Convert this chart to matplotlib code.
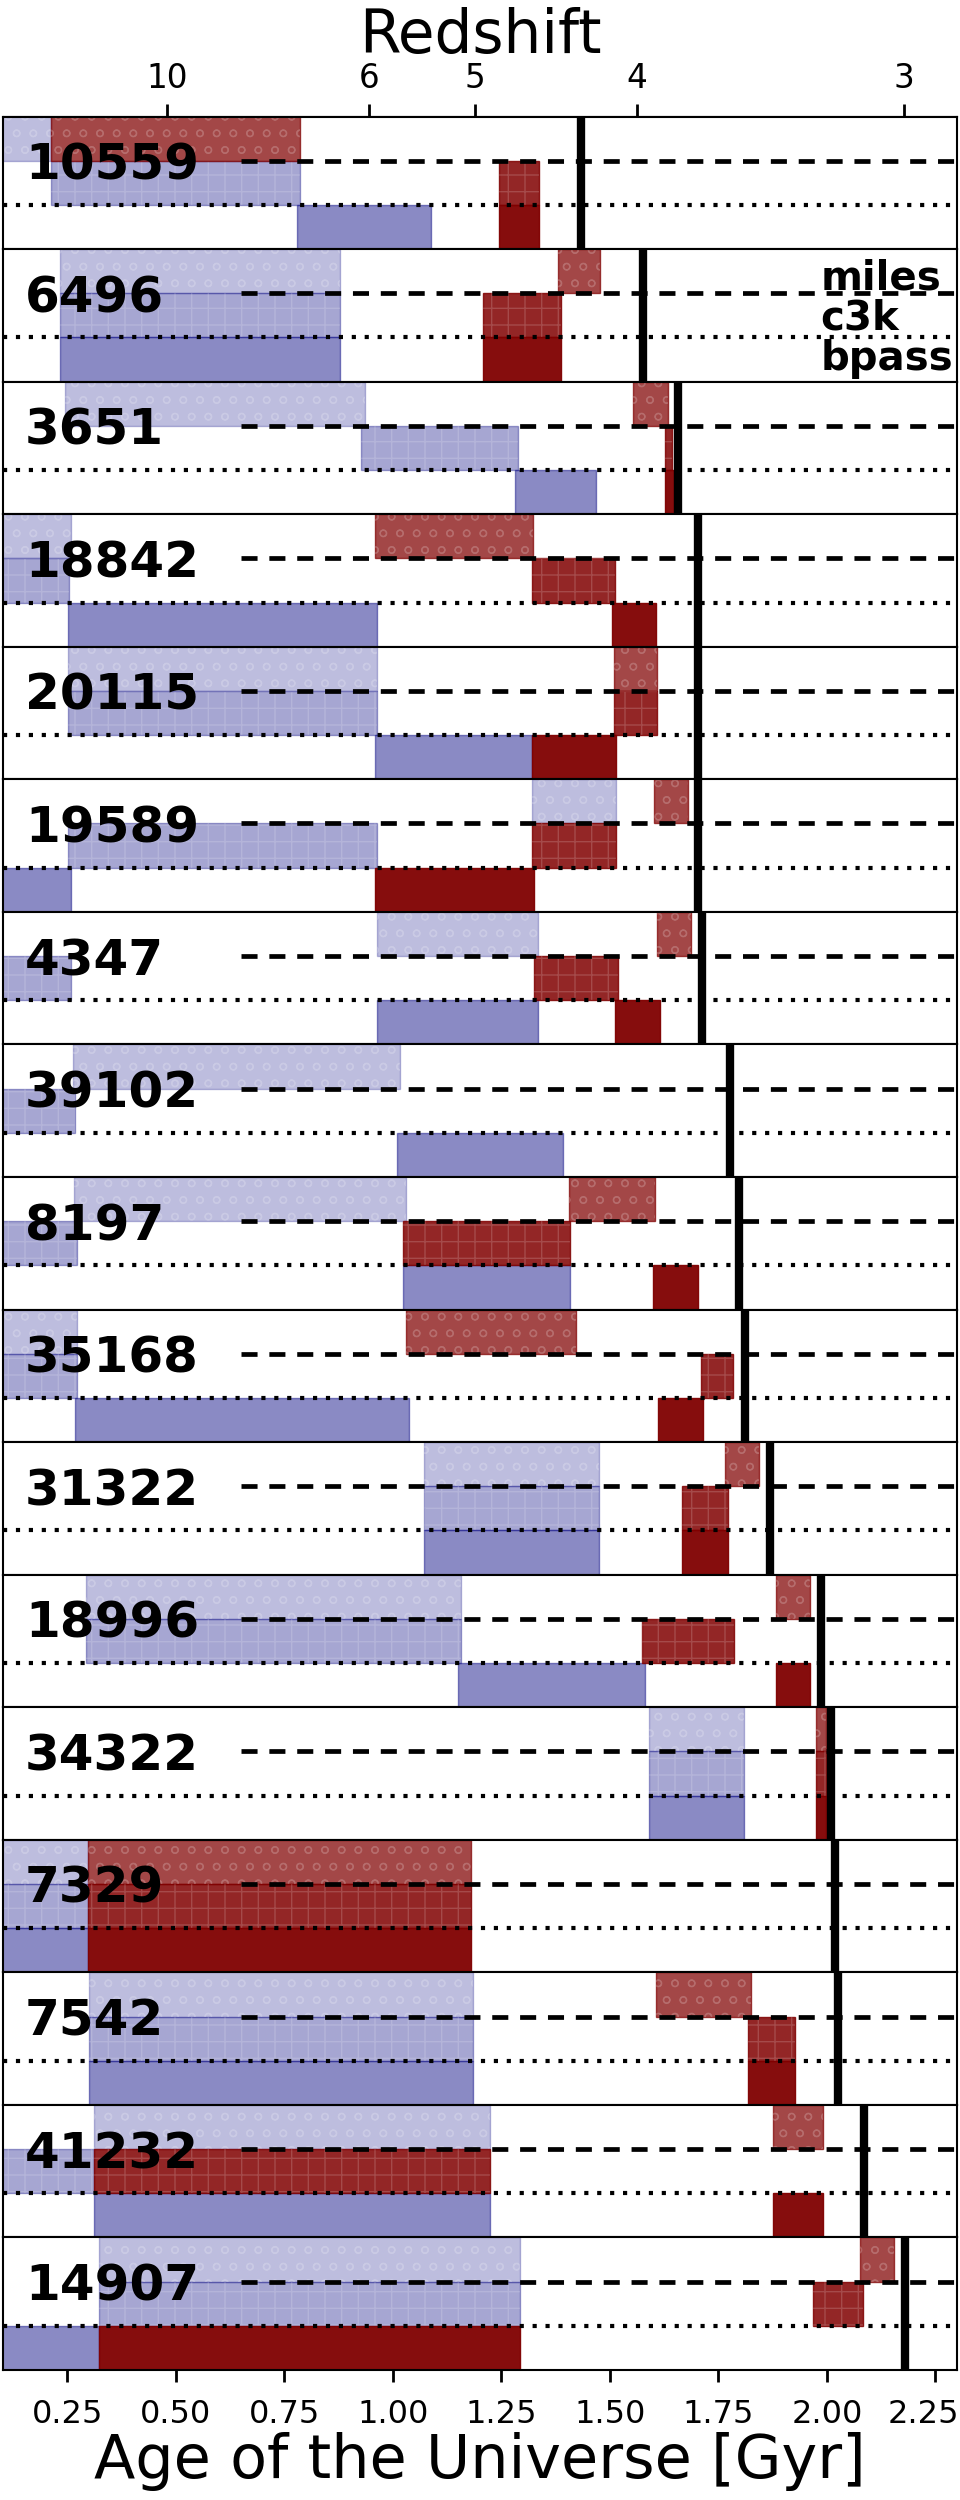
"""Star-formation windows per galaxy for three SPS libraries, vs. age of the Universe."""
import numpy as np
import matplotlib.pyplot as plt
import matplotlib.transforms as mtransforms

galaxy_ids = [10559, 6496, 3651, 18842, 20115, 19589, 4347, 39102, 8197,
              35168, 31322, 18996, 34322, 7329, 7542, 41232, 14907]

# age of the Universe at the observed redshift [Gyr]
obs_age = [1.433, 1.576, 1.658, 1.704, 1.704, 1.704, 1.713, 1.777, 1.798,
           1.812, 1.869, 1.986, 2.010, 2.018, 2.025, 2.086, 2.179]

# (start, end) in Gyr, None = nothing drawn
miles_blue = [(0.0, 0.212), (0.233, 0.879), (0.244, 0.936), (0.0, 0.259),
              (0.251, 0.964), (1.321, 1.514), (0.964, 1.335), (0.264, 1.017),
              (0.266, 1.031), (0.0, 0.273), (1.071, 1.476), (0.294, 1.157),
              (1.591, 1.808), (0.0, 0.297), (0.300, 1.184), (0.311, 1.224),
              (0.323, 1.292)]
miles_red = [(0.212, 0.786), (1.380, 1.477), (1.554, 1.634), (0.960, 1.323),
             (1.509, 1.609), (1.601, 1.680), (1.609, 1.687), None,
             (1.405, 1.604), (1.031, 1.423), (1.765, 1.844), (1.882, 1.961),
             (1.975, 1.998), (0.297, 1.181), (1.606, 1.825), (1.877, 1.991),
             (2.076, 2.154)]
c3k_blue = [(0.212, 0.786), (0.233, 0.879), (0.927, 1.288), (0.0, 0.254),
            (0.251, 0.964), (0.251, 0.964), (0.0, 0.259), (0.0, 0.269),
            (0.0, 0.273), (0.0, 0.273), (1.071, 1.476), (0.294, 1.157),
            (1.591, 1.808), (0.0, 0.297), (0.300, 1.184), (0.0, 0.311),
            (0.323, 1.292)]
c3k_red = [(1.245, 1.338), (1.207, 1.388), (1.626, 1.644), (1.321, 1.512),
           (1.509, 1.609), (1.321, 1.514), (1.326, 1.520), None,
           (1.024, 1.409), (1.711, 1.784), (1.666, 1.772), (1.573, 1.787),
           (1.975, 1.998), (0.297, 1.181), (1.818, 1.926), (0.311, 1.224),
           (1.969, 2.083)]
bpass_blue = [(0.779, 1.088), (0.233, 0.879), (1.281, 1.469), (0.251, 0.964),
              (0.960, 1.321), (0.0, 0.259), (0.964, 1.335), (1.010, 1.392),
              (1.024, 1.409), (0.269, 1.038), (1.071, 1.476), (1.150, 1.580),
              (1.591, 1.808), (0.0, 0.297), (0.300, 1.184), (0.311, 1.224),
              (0.0, 0.323)]
bpass_red = [(1.245, 1.338), (1.207, 1.388), (1.626, 1.648), (1.506, 1.606),
             (1.321, 1.514), (0.960, 1.326), (1.513, 1.616), None,
             (1.599, 1.704), (1.611, 1.715), (1.666, 1.772), (1.882, 1.961),
             (1.975, 1.998), (0.297, 1.181), (1.818, 1.926), (1.877, 1.991),
             (0.323, 1.292)]

library_names = ['miles', 'c3k', 'bpass']
z_ticks = [10, 6, 5, 4, 3]
age_ticks = [0.25, 0.50, 0.75, 1.00, 1.25, 1.50, 1.75, 2.00, 2.25]


def age_of_z(z):
    # flat LCDM age (Gyr)
    return 11.735 * np.arcsinh(1.4931 * (1.0 + np.asarray(z, float)) ** -1.5)


# row: (blue, red, y range, blue alpha, red alpha, hatch)
rows = [
    (miles_blue, miles_red, (2 / 3, 1.0), 0.26, 0.72, 'o'),
    (c3k_blue, c3k_red, (1 / 3, 2 / 3), 0.35, 0.85, '+'),
    (bpass_blue, bpass_red, (0.0, 1 / 3), 0.46, 0.95, None),
]

fig, axes = plt.subplots(len(galaxy_ids), 1, figsize=(9.6, 25), sharex=True)
fig.subplots_adjust(left=0.003, right=0.997, top=0.9534, bottom=0.052, hspace=0)


def span(ax, iv, y0, y1, color, alpha, hatch, z):
    if iv is None:
        return
    ax.axvspan(iv[0], iv[1], y0, y1, color=color, alpha=alpha, zorder=z)
    if hatch:
        ax.axvspan(iv[0], iv[1], y0, y1, facecolor='none',
                   edgecolor=(1, 1, 1, 0.17), hatch=hatch, lw=0, zorder=z + 0.05)


for i, ax in enumerate(axes):
    for blue, red, (y0, y1), ab, ar, hatch in rows:
        span(ax, blue[i], y0, y1, 'navy', ab, hatch, 1.0)
        span(ax, red[i], y0, y1, 'maroon', ar, hatch, 1.2)
    ax.axhline(2 / 3, xmin=0.25, color='k', lw=3.4, ls=(0, (3.4, 2.5)), zorder=2)
    ax.axhline(1 / 3, color='k', lw=3, ls=(0, (1, 2.1)), zorder=2)
    ax.axvline(obs_age[i], color='k', lw=6, zorder=3)
    ax.text(0.023, 2 / 3, str(galaxy_ids[i]), transform=ax.transAxes,
            fontsize=36, fontweight='bold', va='center_baseline', ha='left', zorder=4)
    ax.set_ylim(0, 1)
    ax.set_yticks([])
    ax.tick_params(axis='x', bottom=False, labelbottom=False)
    for sp in ax.spines.values():
        sp.set_linewidth(1.5)

# library names in the second panel
for name, yb in zip(library_names, [0.694, 0.392, 0.09]):
    axes[1].text(0.857, yb, name, transform=axes[1].transAxes, fontsize=29,
                 fontweight='bold', ha='left', va='baseline', zorder=4)

ax_b = axes[-1]
ax_b.set_xlim(0.102, 2.30)
ax_b.set_xticks(age_ticks)
ax_b.set_xticklabels([f'{t:.2f}' for t in age_ticks])
ax_b.tick_params(axis='x', bottom=True, labelbottom=True, labelsize=23,
                 length=8.6, width=2, pad=12)
# keep the last label inside the canvas
last = ax_b.get_xticklabels()[-1]
last.set_transform(last.get_transform()
                   + mtransforms.ScaledTranslation(-0.12, 0, fig.dpi_scale_trans))
ax_b.set_xlabel('Age of the Universe [Gyr]', fontsize=43.5)
ax_b.xaxis.set_label_coords(0.5, -0.468)

top = axes[0].secondary_xaxis('top')
top.set_xticks(age_of_z(z_ticks))
top.set_xticklabels([str(z) for z in z_ticks])
top.tick_params(labelsize=23.5, length=8.6, width=2, pad=7)
top.set_xlabel('Redshift', fontsize=43, labelpad=6)

fig.savefig('out.png', dpi=100)
